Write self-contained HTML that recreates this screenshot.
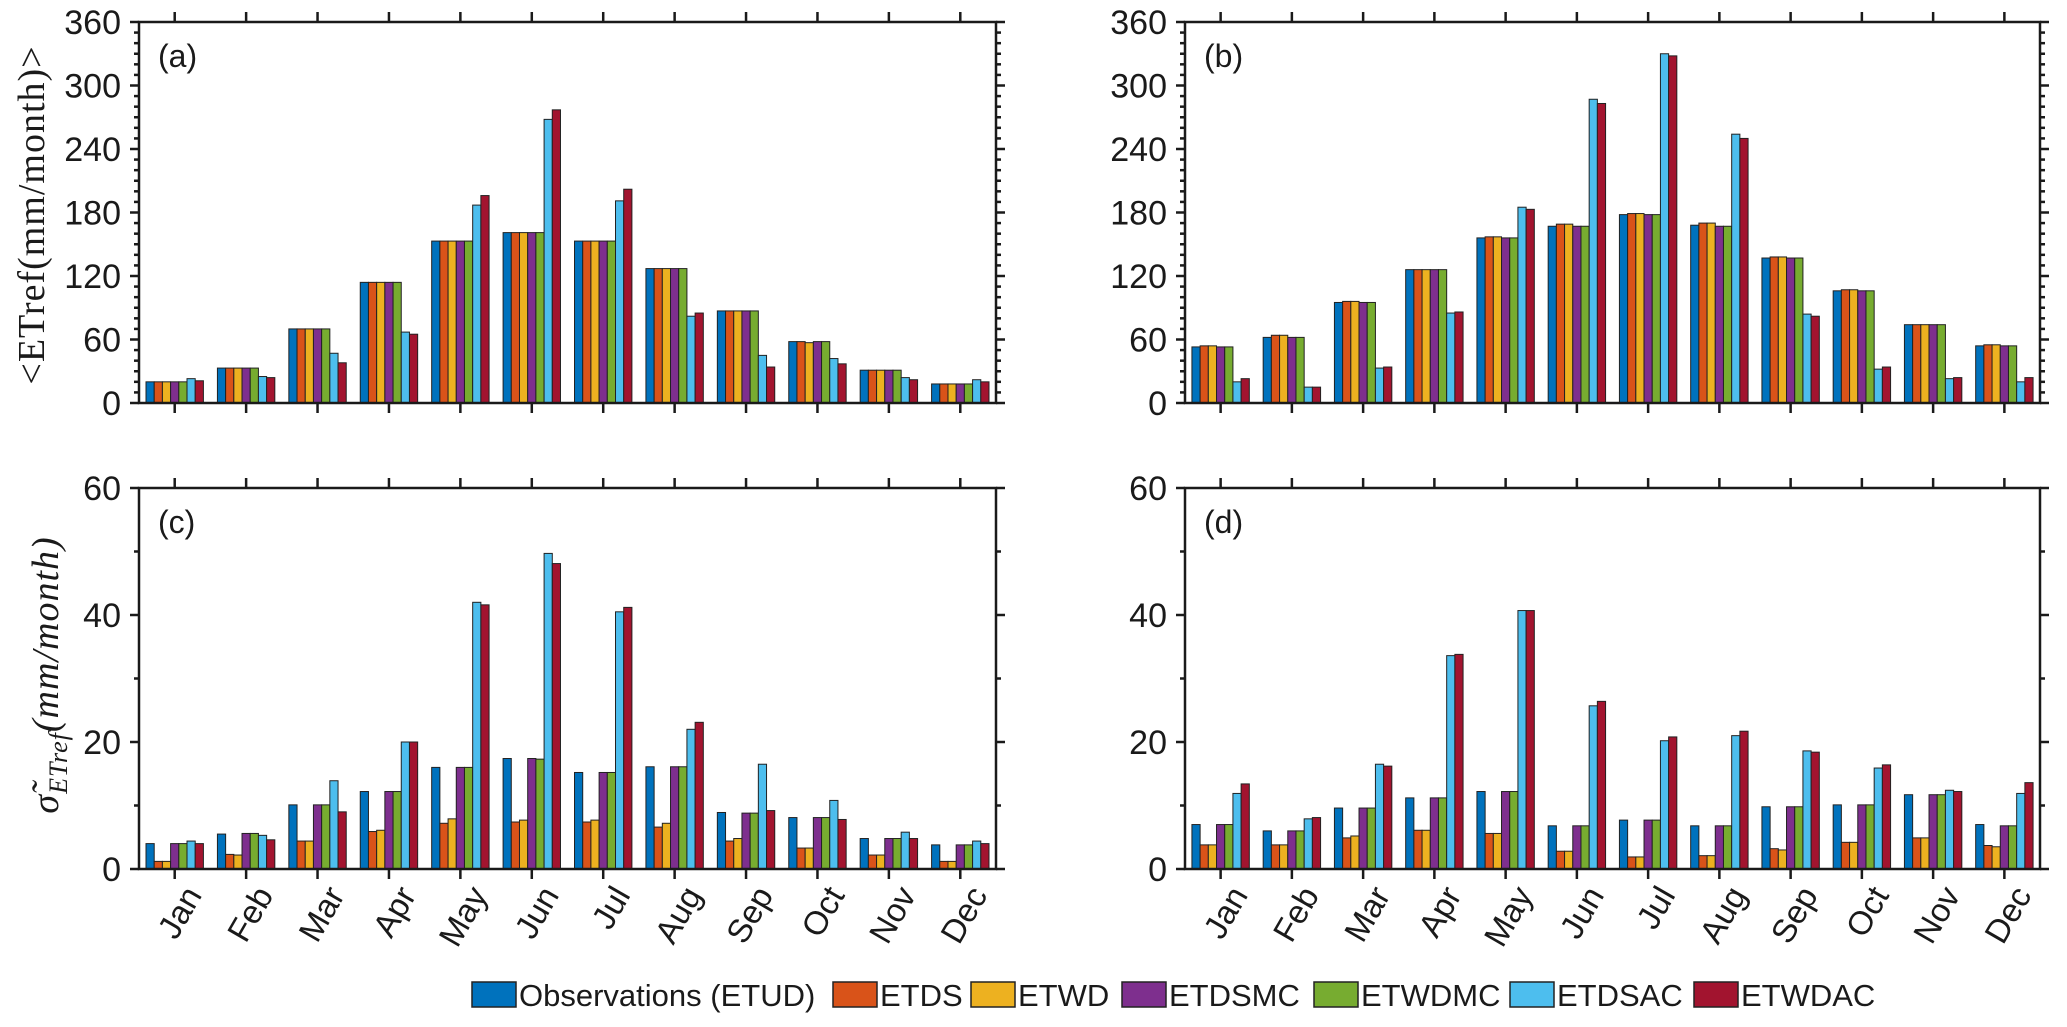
<!DOCTYPE html>
<html><head><meta charset="utf-8"><style>
html,body{margin:0;padding:0;background:#fff;}
svg{display:block;}
text{font-family:"Liberation Sans",sans-serif;fill:#1a1a1a;}
</style></head><body>
<svg id="chart" width="2067" height="1027" viewBox="0 0 2067 1027"></svg>
<script>
const months = ["Jan","Feb","Mar","Apr","May","Jun","Jul","Aug","Sep","Oct","Nov","Dec"];
const seriesNames = ["Observations (ETUD)","ETDS","ETWD","ETDSMC","ETWDMC","ETDSAC","ETWDAC"];
const seriesColors = ["#0072BD","#D95319","#EDB120","#7E2F8E","#77AC30","#4DBEEE","#A2142F"];
const yTicksTop = [0,60,120,180,240,300,360];
const yTicksBottom = [0,20,40,60];
// panel (a): mean ETref, one array per series
const aObs    = [20,33,70,114,153,161,153,127,87,58,31,18];
const aETDS   = [20,33,70,114,153,161,153,127,87,58,31,18];
const aETWD   = [20,33,70,114,153,161,153,127,87,57,31,18];
const aETDSMC = [20,33,70,114,153,161,153,127,87,58,31,18];
const aETWDMC = [20,33,70,114,153,161,153,127,87,58,31,18];
const aETDSAC = [23,25,47,67,187,268,191,82,45,42,24,22];
const aETWDAC = [21,24,38,65,196,277,202,85,34,37,22,20];
// panel (b)
const bObs    = [53,62,95,126,156,167,178,168,137,106,74,54];
const bETDS   = [54,64,96,126,157,169,179,170,138,107,74,55];
const bETWD   = [54,64,96,126,157,169,179,170,138,107,74,55];
const bETDSMC = [53,62,95,126,156,167,178,167,137,106,74,54];
const bETWDMC = [53,62,95,126,156,167,178,167,137,106,74,54];
const bETDSAC = [20,15,33,85,185,287,330,254,84,32,23,20];
const bETWDAC = [23,15,34,86,183,283,328,250,82,34,24,24];
// panel (c): std dev
const cObs    = [4.0,5.5,10.1,12.2,16.0,17.4,15.2,16.1,8.9,8.1,4.8,3.8];
const cETDS   = [1.2,2.3,4.4,5.9,7.2,7.4,7.4,6.6,4.4,3.3,2.2,1.2];
const cETWD   = [1.2,2.2,4.4,6.1,7.9,7.7,7.7,7.2,4.8,3.3,2.2,1.2];
const cETDSMC = [4.0,5.6,10.1,12.2,16.0,17.4,15.2,16.1,8.8,8.1,4.8,3.8];
const cETWDMC = [4.0,5.6,10.1,12.2,16.0,17.3,15.2,16.1,8.8,8.1,4.8,3.8];
const cETDSAC = [4.4,5.3,13.9,20.0,42.0,49.7,40.5,22.0,16.5,10.8,5.8,4.4];
const cETWDAC = [4.0,4.6,9.0,20.0,41.6,48.1,41.2,23.1,9.2,7.8,4.8,4.0];
// panel (d)
const dObs    = [7.0,6.0,9.6,11.2,12.2,6.8,7.7,6.8,9.8,10.1,11.7,7.0];
const dETDS   = [3.8,3.8,4.9,6.1,5.6,2.8,1.9,2.1,3.2,4.2,4.9,3.7];
const dETWD   = [3.8,3.8,5.2,6.1,5.6,2.8,1.9,2.1,3.0,4.2,4.9,3.5];
const dETDSMC = [7.0,6.0,9.6,11.2,12.2,6.8,7.7,6.8,9.8,10.1,11.7,6.8];
const dETWDMC = [7.0,6.0,9.6,11.2,12.2,6.8,7.7,6.8,9.8,10.1,11.7,6.8];
const dETDSAC = [11.9,7.9,16.5,33.6,40.7,25.7,20.2,21.0,18.6,15.9,12.4,11.9];
const dETWDAC = [13.4,8.1,16.2,33.8,40.7,26.4,20.8,21.7,18.4,16.4,12.2,13.6];

const NS="http://www.w3.org/2000/svg";
const svg=document.getElementById('chart');
function mk(tag,attrs,parent){const e=document.createElementNS(NS,tag);for(const k in attrs)e.setAttribute(k,attrs[k]);(parent||svg).appendChild(e);return e;}

const panels=[
 {id:'a',x0:139,x1:996,y0:22,y1:403,max:360,ticks:yTicksTop,minor:10,series:[aObs,aETDS,aETWD,aETDSMC,aETWDMC,aETDSAC,aETWDAC],labels:false},
 {id:'b',x0:1185,x1:2040,y0:22,y1:403,max:360,ticks:yTicksTop,minor:10,series:[bObs,bETDS,bETWD,bETDSMC,bETWDMC,bETDSAC,bETWDAC],labels:false},
 {id:'c',x0:139,x1:996,y0:488,y1:869,max:60,ticks:yTicksBottom,minor:10,series:[cObs,cETDS,cETWD,cETDSMC,cETWDMC,cETDSAC,cETWDAC],labels:true},
 {id:'d',x0:1185,x1:2040,y0:488,y1:869,max:60,ticks:yTicksBottom,minor:10,series:[dObs,dETDS,dETWD,dETDSMC,dETWDMC,dETDSAC,dETWDAC],labels:true}
];

panels.forEach(p=>{
  const g=mk('g',{});
  
  
  const xs=i=>p.x0+(i+0.5)*(p.x1-p.x0)/12;
  const ys=v=>p.y1-v/p.max*(p.y1-p.y0);
  const bw=8.2;
  p.series.forEach((arr,s)=>{
    arr.forEach((v,i)=>{
      const x=xs(i)+(s-3)*bw-bw/2;
      const r=mk('rect',{x:x,y:ys(v),width:bw,height:p.y1-ys(v),fill:seriesColors[s],stroke:'#222','stroke-width':1},g);
      
      
    });
  });
  for(let v=0;v<=p.max;v+=p.minor){
    const y=ys(v);
    const major=p.ticks.indexOf(v)>=0;
    const L=major?9:5;
    mk('line',{x1:p.x0-L,x2:p.x0,y1:y,y2:y,stroke:'#1a1a1a','stroke-width':2.5},g);
    mk('line',{x1:p.x1,x2:p.x1+L,y1:y,y2:y,stroke:'#1a1a1a','stroke-width':2.5},g);
  }
  p.ticks.forEach(v=>{
    const t=mk('text',{x:p.x0-18,y:ys(v)+12,'text-anchor':'end','font-size':34},g);
    t.textContent=v;
    
    
  });
  months.forEach((m,i)=>{
    const x=xs(i);
    mk('line',{x1:x,x2:x,y1:p.y1,y2:p.y1+10,stroke:'#1a1a1a','stroke-width':2.5},g);
    mk('line',{x1:x,x2:x,y1:p.y0-10,y2:p.y0,stroke:'#1a1a1a','stroke-width':2.5},g);
    if(p.labels){
      const tx=x+28, ty=p.y1+26;
      const t=mk('text',{x:tx,y:ty,'text-anchor':'end','font-size':33,transform:'rotate(-60 '+tx+' '+ty+')'},g);
      t.textContent=m;
      
      
    }
  });
  mk('rect',{x:p.x0,y:p.y0,width:p.x1-p.x0,height:p.y1-p.y0,fill:'none',stroke:'#1a1a1a','stroke-width':2.5},g);
  const lab=mk('text',{x:p.x0+19,y:p.y0+45,'font-size':32},g);
  lab.textContent='('+p.id+')';
  
  
});

const t1=mk('text',{x:0,y:0,transform:'translate(44,215) rotate(-90)','text-anchor':'middle','font-size':38,style:'font-family:"Liberation Serif",serif;letter-spacing:1px'});
t1.textContent='<ETref(mm/month)>';


const t2=mk('text',{x:0,y:0,transform:'translate(58,675) rotate(-90)','text-anchor':'middle','font-size':38,style:'font-family:"Liberation Serif",serif;font-style:italic;letter-spacing:1px'});
const ts1=mk('tspan',{},t2);ts1.textContent='σ̃';
const ts2=mk('tspan',{'font-size':26,dy:9},t2);ts2.textContent='ETref';
const ts3=mk('tspan',{dy:-9},t2);ts3.textContent='(mm/month)';



const legX=[472,833,971,1122,1314,1510,1694];
const lg=mk('g',{});


seriesNames.forEach((n,s)=>{
  const e=mk('g',{},lg);
  
  
  mk('rect',{x:legX[s],y:982,width:44,height:25,fill:seriesColors[s],stroke:'#222','stroke-width':1.5},e);
  const t=mk('text',{x:legX[s]+47,y:1006,'font-size':31},e);
  t.textContent=n;
});
</script>
</body></html>
